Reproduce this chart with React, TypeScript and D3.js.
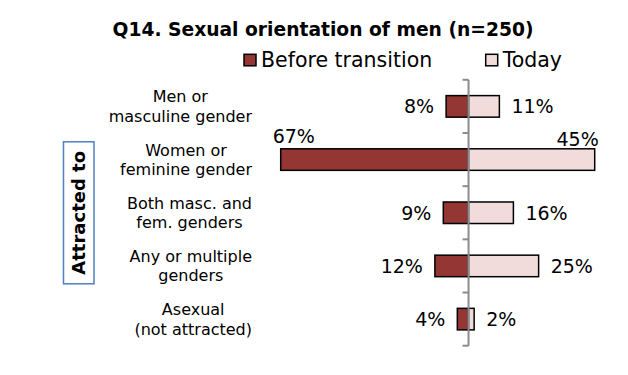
import React, { useEffect, useRef } from "react";
import * as d3 from "d3";

// chart data
const categories = [
  ["Men or", "masculine gender"],
  ["Women or", "feminine gender"],
  ["Both masc. and", "fem. genders"],
  ["Any or multiple", "genders"],
  ["Asexual", "(not attracted)"],
];
const beforeValues = [8, 67, 9, 12, 4];
const todayValues = [11, 45, 16, 25, 2];
const seriesNames = ["Before transition", "Today"];
const title = "Q14. Sexual orientation of men (n=250)";
const axisTitle = "Attracted to";

const App = () => {
  const svgRef = useRef<SVGSVGElement>(null);

  useEffect(() => {
    const svg = d3.select(svgRef.current);
    svg.selectAll("*").remove();

    const width = 628,
      height = 375;
    const font = "'DejaVu Sans', Verdana, sans-serif";
    const beforeColor = "#943634";
    const todayColor = "#f2dcdb";

    svg.attr("width", width).attr("height", height);

    const x = d3.scaleLinear().domain([-67, 45]).range([280.7, 594.7]);
    const y = d3
      .scaleBand()
      .domain(categories.map((_, i) => String(i)))
      .range([79.8, 345.7]);
    const barH = y.bandwidth() * 0.405;
    const mid = (i: number) => (y(String(i)) as number) + y.bandwidth() / 2;

    // title
    svg
      .append("text")
      .attr("x", 323)
      .attr("y", 36)
      .attr("text-anchor", "middle")
      .style("font-family", font)
      .style("font-weight", "bold")
      .style("font-size", "18.7px")
      .text(title);

    // legend
    const legend = [
      { name: seriesNames[0], color: beforeColor, x: 244 },
      { name: seriesNames[1], color: todayColor, x: 485.7 },
    ];
    legend.forEach((l) => {
      svg
        .append("rect")
        .attr("x", l.x)
        .attr("y", 54.3)
        .attr("width", 12)
        .attr("height", 11.5)
        .attr("fill", l.color)
        .attr("stroke", "#000")
        .attr("stroke-width", 1.5);
      svg
        .append("text")
        .attr("x", l.x + 17)
        .attr("y", 60)
        .attr("dy", "0.36em")
        .style("font-family", font)
        .style("font-size", "20.5px")
        .text(l.name);
    });

    // bars
    const g = svg.append("g");
    g.selectAll("rect.before")
      .data(beforeValues)
      .join("rect")
      .attr("class", "before")
      .attr("x", (d) => x(-d))
      .attr("y", (_, i) => mid(i) - barH / 2)
      .attr("width", (d) => x(0) - x(-d))
      .attr("height", barH)
      .attr("fill", beforeColor)
      .attr("stroke", "#000")
      .attr("stroke-width", 1.5);
    g.selectAll("rect.today")
      .data(todayValues)
      .join("rect")
      .attr("class", "today")
      .attr("x", x(0))
      .attr("y", (_, i) => mid(i) - barH / 2)
      .attr("width", (d) => x(d) - x(0))
      .attr("height", barH)
      .attr("fill", todayColor)
      .attr("stroke", "#000")
      .attr("stroke-width", 1.5);

    // axis line with ticks
    const axis = svg.append("g");
    axis
      .append("line")
      .attr("x1", x(0))
      .attr("x2", x(0))
      .attr("y1", y.range()[0])
      .attr("y2", y.range()[1])
      .attr("stroke", "#8c8c8c")
      .attr("stroke-width", 2);
    const ticks = categories.map((_, i) => y(String(i)) as number).concat([y.range()[1]]);
    axis
      .selectAll("line.tick")
      .data(ticks)
      .join("line")
      .attr("class", "tick")
      .attr("x1", x(0) - 6)
      .attr("x2", x(0))
      .attr("y1", (d) => d)
      .attr("y2", (d) => d)
      .attr("stroke", "#8c8c8c")
      .attr("stroke-width", 2);

    // value labels
    const labelFont = "19px";
    beforeValues.forEach((v, i) => {
      const end = x(-v);
      const above = end - 50 < 270;
      svg
        .append("text")
        .attr("x", above ? end - 8 : end - 12)
        .attr("y", above ? mid(i) - barH / 2 - 6 : mid(i))
        .attr("dy", above ? 0 : "0.36em")
        .attr("text-anchor", above ? "start" : "end")
        .style("font-family", font)
        .style("font-size", labelFont)
        .text(`${v}%`);
    });
    todayValues.forEach((v, i) => {
      const end = x(v);
      const above = end + 50 > 600;
      svg
        .append("text")
        .attr("x", above ? end + 4 : end + 12)
        .attr("y", above ? mid(i) - barH / 2 - 3 : mid(i))
        .attr("dy", above ? 0 : "0.36em")
        .attr("text-anchor", above ? "end" : "start")
        .style("font-family", font)
        .style("font-size", labelFont)
        .text(`${v}%`);
    });

    // category labels: block right aligned, lines centred
    const catRight = 252;
    categories.forEach((lines, i) => {
      const t = svg
        .append("g")
        .style("font-family", font)
        .style("font-size", "16px");
      const texts = lines.map((line, j) =>
        t
          .append("text")
          .attr("y", mid(i) + (j - (lines.length - 1) / 2) * 19.5)
          .attr("dy", "0.36em")
          .attr("text-anchor", "middle")
          .text(line)
      );
      const w = d3.max(texts, (s) => (s.node() as SVGTextElement).getComputedTextLength()) || 0;
      texts.forEach((s) => s.attr("x", catRight - w / 2));
    });

    // axis title box
    svg
      .append("rect")
      .attr("x", 63.5)
      .attr("y", 141.8)
      .attr("width", 30.5)
      .attr("height", 142)
      .attr("fill", "#fff")
      .attr("stroke", "#4f81bd")
      .attr("stroke-width", 1.5);
    svg
      .append("text")
      .attr("transform", `translate(79,212.8) rotate(-90)`)
      .attr("text-anchor", "middle")
      .attr("dy", "0.36em")
      .style("font-family", font)
      .style("font-weight", "bold")
      .style("font-size", "18px")
      .text(axisTitle);
  }, []);

  return (
    <svg
      ref={svgRef}
      style={{ position: "absolute", left: 0, top: 0, background: "#fff" }}
    />
  );
};

export default App;
